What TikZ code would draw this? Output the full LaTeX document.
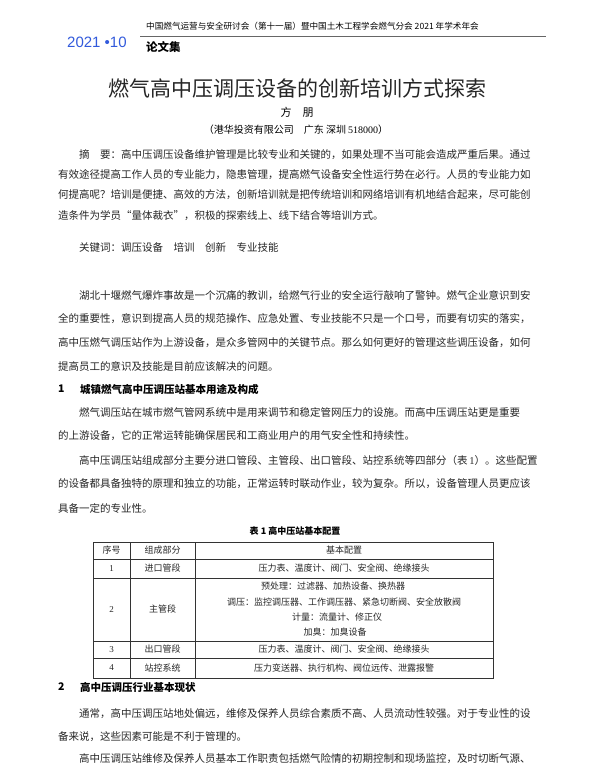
\documentclass[tikz,border=0pt]{standalone}
\usepackage{fontspec}
\setmainfont{Noto Sans CJK SC}
\newfontfamily\latinf{Liberation Serif}
\newfontfamily\headf{Liberation Sans}
\XeTeXlinebreaklocale "zh"
\XeTeXlinebreakskip=0pt plus 3pt minus 0.5pt
\newcommand\jl[1]{\hbox to 474pt{#1}}
\newcommand\jli[1]{\hbox to 474pt{\hspace*{21pt}#1}}
\tikzset{
  ln/.style={anchor=west,inner sep=0pt,font=\fontsize{10.5}{12}\selectfont,text=black!85},
  tb/.style={inner sep=0pt,font=\fontsize{9}{10}\selectfont,text=black!85},
  hd/.style={anchor=west,inner sep=0pt,font=\fontsize{10.5}{12}\selectfont\bfseries},
  rule/.style={draw=black!80,line width=0.7pt}
}
\begin{document}
\begin{tikzpicture}[x=1pt,y=-1pt]
\useasboundingbox[fill=white] (0,0) rectangle (600,768);
% header
\node[anchor=west,inner sep=0pt,text={rgb,255:red,50;green,90;blue,220},font=\headf\fontsize{15}{16}\selectfont] (yr) at (67,42) {2021 \textbullet10};
\node[anchor=west,inner sep=0pt,font=\fontsize{8.6}{10}\selectfont] (conf) at (146,26) {中国燃气运营与安全研讨会（第十一届）暨中国土木工程学会燃气分会 2021 年学术年会};
\coordinate (hl) at (140,36); \coordinate (hr) at (546,36);
\draw[black!60,line width=0.8pt] (hl) -- (hr);
\node[anchor=west,inner sep=0pt,font=\fontsize{11.5}{12}\selectfont\bfseries] (lwj) at (146,47) {论文集};
% title
\node[inner sep=0pt,font=\fontsize{21}{24}\selectfont,text=black!85] (title) at (297,88) {燃气高中压调压设备的创新培训方式探索};
\node[inner sep=0pt,font=\fontsize{11}{12}\selectfont] (author) at (297,112) {方\quad 朋};
\node[inner sep=0pt,font=\fontsize{10}{12}\selectfont] (aff) at (296,130) {（港华投资有限公司\quad 广东\ 深圳 {\latinf 518000}）};
% abstract
\node[ln] (a1) at (58,155) {\jli{摘\quad 要：高中压调压设备维护管理是比较专业和关键的，如果处理不当可能会造成严重后果。通过}};
\node[ln] (a2) at (58,175) {\jl{有效途径提高工作人员的专业能力，隐患管理，提高燃气设备安全性运行势在必行。人员的专业能力如}};
\node[ln] (a3) at (58,195) {\jl{何提高呢？培训是便捷、高效的方法，创新培训就是把传统培训和网络培训有机地结合起来，尽可能创}};
\node[ln] (a4) at (58,216) {\hspace*{0pt}造条件为学员“量体裁衣”，积极的探索线上、线下结合等培训方式。};
\node[ln] (kw) at (79,248) {关键词：调压设备\quad 培训\quad 创新\quad 专业技能};
% intro
\node[ln] (p1) at (58,296) {\jli{湖北十堰燃气爆炸事故是一个沉痛的教训，给燃气行业的安全运行敲响了警钟。燃气企业意识到安}};
\node[ln] (p2) at (58,319) {\jl{全的重要性，意识到提高人员的规范操作、应急处置、专业技能不只是一个口号，而要有切实的落实，}};
\node[ln] (p3) at (58,343) {\jl{高中压燃气调压站作为上游设备，是众多管网中的关键节点。那么如何更好的管理这些调压设备，如何}};
\node[ln] (p4) at (58,366) {提高员工的意识及技能是目前应该解决的问题。};
\node[hd] (h1n) at (58,389) {1};
\node[hd] (h1) at (80,389) {城镇燃气高中压调压站基本用途及构成};
\node[ln] (q1) at (58,412) {\jli{燃气调压站在城市燃气管网系统中是用来调节和稳定管网压力的设施。而高中压调压站更是重要}};
\node[ln] (q2) at (58,436) {的上游设备，它的正常运转能确保居民和工商业用户的用气安全性和持续性。};
\node[ln] (q3) at (58,461) {\jli{高中压调压站组成部分主要分进口管段、主管段、出口管段、站控系统等四部分（表 {\latinf 1}）。这些配置}};
\node[ln] (q4) at (58,484) {\jl{的设备都具备独特的原理和独立的功能，正常运转时联动作业，较为复杂。所以，设备管理人员更应该}};
\node[ln] (q5) at (58,508) {具备一定的专业性。};
% table
\node[inner sep=0pt,font=\fontsize{9}{10}\selectfont\bfseries] (tcap) at (295,531) {表 1\ 高中压站基本配置};
\coordinate (tl) at (93,542); \coordinate (tr) at (493,678);
\draw[rule] (tl) rectangle (tr);
\foreach \yy in {559,578,641,658} \draw[rule] (93,\yy) -- (493,\yy);
\foreach \xx in {130,195} \draw[rule] (\xx,542) -- (\xx,678);
\node[tb] (c11) at (111.5,550.5) {序号};
\node[tb] (c12) at (162.5,550.5) {组成部分};
\node[tb] (c13) at (344,550.5) {基本配置};
\node[tb] (c21) at (111.5,568.5) {\latinf 1};
\node[tb] (c22) at (162.5,568.5) {进口管段};
\node[tb] (c23) at (344,568.5) {压力表、温度计、阀门、安全阀、绝缘接头};
\node[tb] (c31) at (111.5,609.5) {\latinf 2};
\node[tb] (c32) at (162.5,609.5) {主管段};
\node[tb] (c33a) at (333,586) {预处理：过滤器、加热设备、换热器};
\node[tb] (c33b) at (344,602) {调压：监控调压器、工作调压器、紧急切断阀、安全放散阀};
\node[tb] (c33c) at (337,617) {计量：流量计、修正仪};
\node[tb] (c33d) at (335,632) {加臭：加臭设备};
\node[tb] (c41) at (111.5,649.5) {\latinf 3};
\node[tb] (c42) at (162.5,649.5) {出口管段};
\node[tb] (c43) at (344,649.5) {压力表、温度计、阀门、安全阀、绝缘接头};
\node[tb] (c51) at (111.5,668) {\latinf 4};
\node[tb] (c52) at (162.5,668) {站控系统};
\node[tb] (c53) at (344,668) {压力变送器、执行机构、阀位远传、泄露报警};
% section 2
\node[hd] (h2n) at (58,687) {2};
\node[hd] (h2) at (80,687) {高中压调压行业基本现状};
\node[ln] (r1) at (58,714) {\jli{通常，高中压调压站地处偏远，维修及保养人员综合素质不高、人员流动性较强。对于专业性的设}};
\node[ln] (r2) at (58,737) {备来说，这些因素可能是不利于管理的。};
\node[ln] (r3) at (58,759) {\jli{高中压调压站维修及保养人员基本工作职责包括燃气险情的初期控制和现场监控，及时切断气源、}};
\end{tikzpicture}
\end{document}
